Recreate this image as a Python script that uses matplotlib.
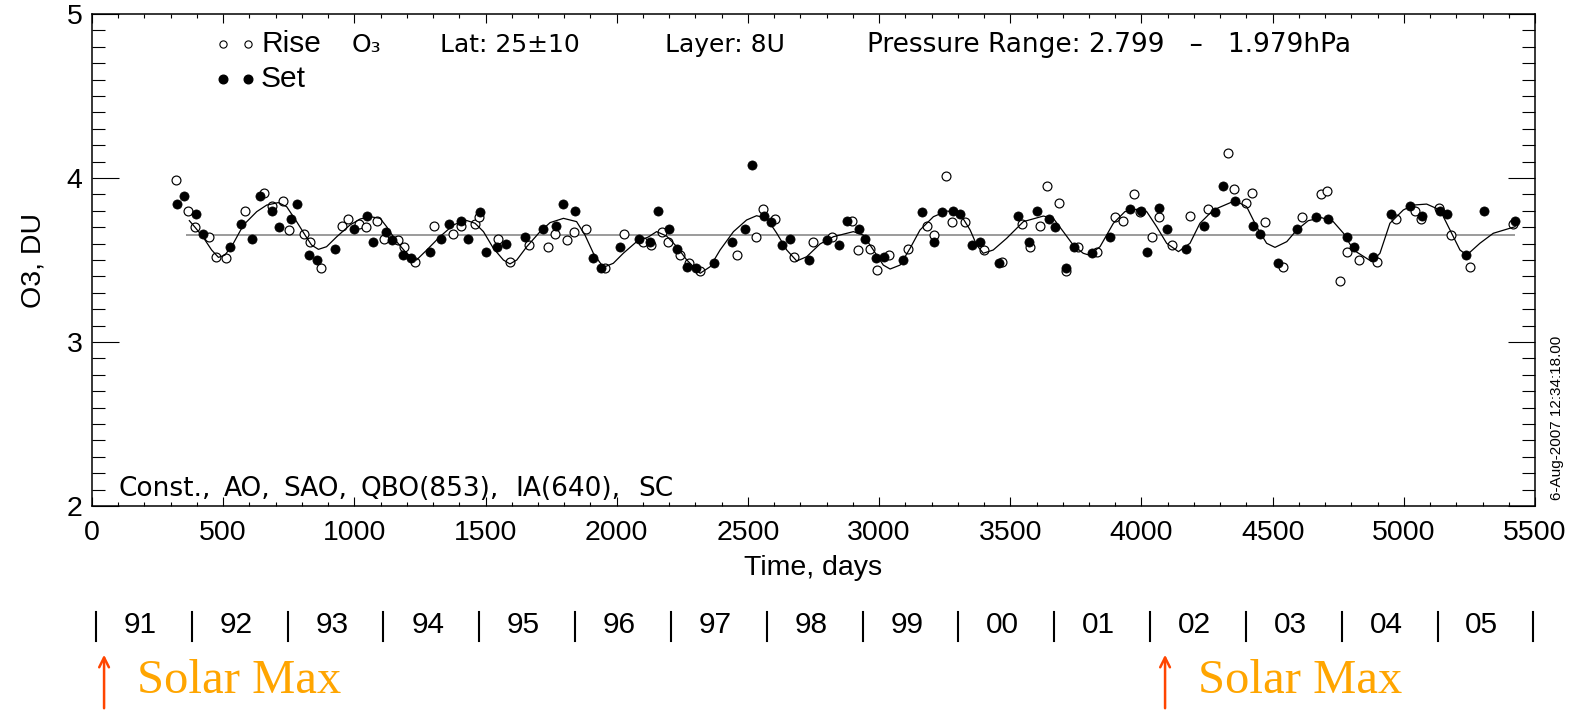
import matplotlib
matplotlib.use('Agg')
import matplotlib.pyplot as plt
import matplotlib.transforms as mtransforms
from matplotlib.ticker import MultipleLocator
from matplotlib.lines import Line2D

# ---------------- data ----------------
rise_days = [320, 367, 392, 447, 471, 511, 583, 657, 685, 729, 752, 808, 831, 871, 951, 974,
             1019, 1044, 1088, 1114, 1167, 1189, 1233, 1303, 1377, 1405, 1460, 1476, 1548, 1593,
             1665, 1739, 1764, 1809, 1837, 1881, 1955, 2027, 2101,
             2129, 2171, 2197, 2243, 2275, 2317, 2457, 2531, 2558, 2603, 2677, 2749, 2821, 2895,
             2918, 2965, 2993, 3037, 3111, 3184, 3210, 3255, 3279, 3329, 3400, 3470, 3543, 3575,
             3615, 3641, 3686, 3714, 3759, 3829,
             3901, 3928, 3972, 3996, 4042, 4068, 4115, 4184, 4254, 4328, 4352, 4400, 4423, 4470,
             4540, 4613, 4683, 4706, 4756, 4782, 4829, 4899, 4969, 5044, 5067, 5134, 5181, 5251, 5417]
rise_o3 = [3.99, 3.80, 3.70, 3.64, 3.52, 3.51, 3.80, 3.91, 3.83, 3.86, 3.68, 3.66, 3.61, 3.45, 3.71, 3.75,
           3.72, 3.70, 3.74, 3.63, 3.62, 3.58, 3.49, 3.71, 3.66, 3.71, 3.72, 3.76, 3.63, 3.49,
           3.59, 3.58, 3.66, 3.62, 3.67, 3.69, 3.45, 3.66, 3.61,
           3.59, 3.67, 3.61, 3.53, 3.48, 3.43, 3.53, 3.64, 3.81, 3.75, 3.52, 3.61, 3.64, 3.74,
           3.56, 3.57, 3.44, 3.53, 3.57, 3.71, 3.65, 4.01, 3.73, 3.73, 3.56, 3.49, 3.72, 3.58,
           3.71, 3.95, 3.85, 3.43, 3.58, 3.55,
           3.76, 3.74, 3.90, 3.79, 3.64, 3.76, 3.59, 3.77, 3.81, 4.15, 3.93, 3.85, 3.91, 3.73,
           3.46, 3.76, 3.90, 3.92, 3.37, 3.55, 3.50, 3.49, 3.75, 3.80, 3.75, 3.82, 3.65, 3.46, 3.72]

set_days = [323, 352, 396, 422, 526, 567, 608, 640, 687, 713, 757, 783, 826, 856, 927, 1000,
            1047, 1072, 1119, 1144, 1186, 1216, 1288, 1330, 1360, 1406, 1434, 1479, 1502, 1542,
            1578, 1650, 1720, 1768, 1794, 1841, 1910, 1939, 2012, 2084, 2125,
            2156, 2200, 2228, 2269, 2301, 2370, 2441, 2488, 2516, 2561, 2588, 2631, 2660, 2733,
            2803, 2847, 2876, 2923, 2946, 2990, 3019, 3092, 3164, 3209, 3238, 3282, 3310, 3356,
            3384, 3456, 3528, 3572, 3600, 3647, 3670, 3714, 3742, 3813,
            3882, 3956, 4000, 4023, 4068, 4096, 4168, 4238, 4282, 4309, 4356, 4426, 4451, 4521,
            4593, 4664, 4711, 4784, 4809, 4883, 4953, 5023, 5070, 5137, 5163, 5236, 5305, 5423]
set_o3 = [3.84, 3.89, 3.78, 3.66, 3.58, 3.72, 3.63, 3.89, 3.80, 3.70, 3.75, 3.84, 3.53, 3.50, 3.57, 3.69,
          3.77, 3.61, 3.67, 3.62, 3.53, 3.51, 3.55, 3.63, 3.72, 3.74, 3.63, 3.79, 3.55, 3.58,
          3.60, 3.64, 3.69, 3.71, 3.84, 3.80, 3.51, 3.45, 3.58, 3.63, 3.61,
          3.80, 3.69, 3.57, 3.46, 3.45, 3.48, 3.61, 3.69, 4.08, 3.77, 3.73, 3.59, 3.63, 3.50,
          3.62, 3.59, 3.74, 3.69, 3.63, 3.51, 3.52, 3.50, 3.79, 3.61, 3.79, 3.80, 3.78, 3.59,
          3.61, 3.48, 3.77, 3.61, 3.80, 3.75, 3.70, 3.45, 3.58, 3.54,
          3.64, 3.81, 3.80, 3.55, 3.82, 3.69, 3.57, 3.71, 3.79, 3.95, 3.86, 3.71, 3.66, 3.48,
          3.69, 3.76, 3.75, 3.64, 3.58, 3.52, 3.78, 3.83, 3.77, 3.80, 3.78, 3.53, 3.80, 3.74]

fit_days = [371, 393, 424, 456, 482, 507, 539, 577, 628, 666, 710, 742, 780, 812, 837, 863, 894,
            933, 983, 1022, 1060, 1098, 1123, 1161, 1199, 1237, 1276, 1326, 1377, 1422, 1460,
            1492, 1530, 1568, 1593, 1619, 1657, 1708, 1746, 1797, 1847, 1879, 1911, 1949, 1987,
            2025, 2076, 2120, 2152, 2190, 2229, 2267, 2318, 2356, 2394, 2445, 2495, 2533, 2572,
            2610, 2648, 2686, 2724, 2775, 2826, 2902, 2940, 2978, 3016, 3042, 3080, 3118, 3156,
            3207, 3258, 3308, 3347, 3372, 3397, 3435, 3486, 3550, 3626, 3664, 3702, 3740, 3778,
            3800, 3842, 3893, 3937, 3982, 4020, 4058, 4096, 4141, 4185, 4223, 4274, 4357, 4401,
            4439, 4477, 4509, 4554, 4592, 4636, 4687, 4731, 4770, 4808, 4878, 4909, 4947, 4998,
            5036, 5087, 5138, 5176, 5214, 5240, 5290, 5341, 5424]
fit_o3 = [3.740, 3.699, 3.638, 3.561, 3.516, 3.530, 3.602, 3.713, 3.795, 3.835, 3.850, 3.825, 3.734,
          3.652, 3.591, 3.565, 3.581, 3.642, 3.713, 3.750, 3.764, 3.754, 3.703, 3.612, 3.541,
          3.500, 3.561, 3.642, 3.713, 3.744, 3.724, 3.673, 3.571, 3.500, 3.476, 3.500, 3.581,
          3.673, 3.728, 3.754, 3.734, 3.652, 3.541, 3.455, 3.480, 3.541, 3.612, 3.640, 3.673,
          3.646, 3.581, 3.500, 3.419, 3.459, 3.561, 3.673, 3.744, 3.770, 3.754, 3.663, 3.561,
          3.494, 3.520, 3.598, 3.642, 3.673, 3.652, 3.561, 3.469, 3.445, 3.469, 3.571, 3.683,
          3.764, 3.799, 3.784, 3.683, 3.591, 3.541, 3.561, 3.632, 3.734, 3.768, 3.754, 3.673,
          3.591, 3.541, 3.530, 3.581, 3.724, 3.795, 3.809, 3.795, 3.703, 3.602, 3.551, 3.602,
          3.724, 3.805, 3.862, 3.825, 3.703, 3.602, 3.577, 3.612, 3.683, 3.740, 3.758, 3.734,
          3.663, 3.561, 3.490, 3.541, 3.724, 3.805, 3.835, 3.841, 3.805, 3.683, 3.561, 3.530,
          3.602, 3.663, 3.703]

mean_level = 3.65
mean_span_days = [358, 5423]

x_ticks = [0, 500, 1000, 1500, 2000, 2500, 3000, 3500, 4000, 4500, 5000, 5500]
y_ticks = [2, 3, 4, 5]
years = ['91', '92', '93', '94', '95', '96', '97', '98', '99', '00', '01', '02', '03', '04', '05']
solar_max_days = [46, 4090]

# ---------------- figure ----------------
W, H, DPI = 1577, 711, 100
fig = plt.figure(figsize=(W / DPI, H / DPI), dpi=DPI)
fig.patch.set_facecolor('white')

def fx(px):
    return px / W

def fy(py):
    return 1 - py / H

SANS = ['Liberation Sans', 'DejaVu Sans']
HERSHEY = ['DejaVu Sans']

ax = fig.add_axes([fx(92), fy(506), (1535 - 92) / W, (506 - 14) / H])
ax.set_xlim(0, 5500)
ax.set_ylim(2, 5)

# data
ax.hlines(mean_level, mean_span_days[0], mean_span_days[1], color='#8a8a8a', lw=1.2, zorder=2)
ax.plot(rise_days, rise_o3, ls='none', marker='o', ms=6.4, mfc='white', mec='black', mew=0.85, zorder=3)
ax.plot(set_days, set_o3, ls='none', marker='o', ms=6.6, mfc='black', mec='black', mew=0.5, zorder=3)
ax.plot(fit_days, fit_o3, color='black', lw=0.9, zorder=4)

# ticks
ax.set_xticks(x_ticks)
ax.set_yticks(y_ticks)
ax.xaxis.set_minor_locator(MultipleLocator(100))
ax.yaxis.set_minor_locator(MultipleLocator(0.1))
ax.tick_params(which='both', direction='in', top=True, right=True, width=0.8, color='black')
ax.tick_params(axis='x', which='major', length=6.5, pad=10, labelsize=20.5)
ax.tick_params(axis='x', which='minor', length=3.2)
ax.tick_params(axis='y', which='major', length=19.5, pad=7, labelsize=20.5)
ax.tick_params(axis='y', which='minor', length=9.5)
for lab in ax.get_xticklabels() + ax.get_yticklabels():
    lab.set_family(SANS)
for s in ax.spines.values():
    s.set_linewidth(1.1)
    s.set_color('black')

ax.set_xlabel('Time, days', fontsize=20.5, family=SANS)
ax.xaxis.set_label_coords(0.5, (506 - 568) / 492)
ax.xaxis.label.set_va('center')
ax.set_ylabel('O3, DU', fontsize=20.5, family=SANS)
ax.yaxis.set_label_coords((33 - 92) / 1443, 0.5)
ax.yaxis.label.set_va('center')

# legend (manual, as in the IDL plot)
fig.add_artist(Line2D([fx(223), fx(248)], [fy(44), fy(44)], ls='none', marker='o', ms=5.2,
                      mfc='white', mec='black', mew=0.8, transform=fig.transFigure))
fig.add_artist(Line2D([fx(223), fx(248)], [fy(79), fy(79)], ls='none', marker='o', ms=6.2,
                      mfc='black', mec='black', transform=fig.transFigure))
fig.text(fx(261), fy(44), 'Rise', fontsize=21.5, family=SANS, va='center', ha='left')
fig.text(fx(261), fy(79), 'Set', fontsize=21.5, family=SANS, va='center', ha='left')

# header texts
hdr_kw = dict(fontsize=18, family=HERSHEY, va='center', ha='left', color='black')
header_parts = [(352, 'O₃'), (440, 'Lat: 25±10'), (665, 'Layer: 8U')]
for px, s in header_parts:
    fig.text(fx(px), fy(45), s, **hdr_kw)
fig.text(fx(867), fy(45), 'Pressure Range: 2.799   –   1.979hPa',
         **dict(hdr_kw, fontsize=19))

ftr_kw = dict(fontsize=19, family=HERSHEY, va='center', ha='left', color='black')
footer_parts = [(118, 'Const.,'), (224, 'AO,'), (283, 'SAO,'), (360, 'QBO(853),'),
                (515, 'IA(640),'), (638, 'SC')]
for px, s in footer_parts:
    fig.text(fx(px), fy(489), s, **ftr_kw)

# timestamp
fig.text(fx(1557), fy(500), '6-Aug-2007 12:34:18.00', rotation=90, fontsize=11,
         family=SANS, ha='center', va='bottom')

# year row under the axis
bt = mtransforms.blended_transform_factory(ax.transData, fig.transFigure)
year0_day = 15
days_per_year = 365.25
for k in range(len(years) + 1):
    d = year0_day + k * days_per_year
    fig.add_artist(Line2D([d, d], [fy(612), fy(641)], color='black', lw=1.5, transform=bt))
for k, y in enumerate(years):
    d = year0_day + (k + 0.5) * days_per_year
    fig.text(d - 14, fy(625), y, transform=bt, fontsize=21.5, family=SANS, ha='center', va='center')

# solar max arrows
for d in solar_max_days:
    ax.annotate('', xy=(d, fy(652)), xytext=(d, fy(711)), xycoords=bt, textcoords=bt,
                arrowprops=dict(arrowstyle='->,head_length=0.7,head_width=0.35', color='#ff4500', lw=1.8),
                annotation_clip=False)
    fig.text(d + 33 / 0.26236, fy(681), 'Solar Max', transform=bt,
             fontsize=35, family=['Liberation Serif', 'DejaVu Serif'], color='#ffa500',
             ha='left', va='center')

fig.savefig('out.png', dpi=DPI)
